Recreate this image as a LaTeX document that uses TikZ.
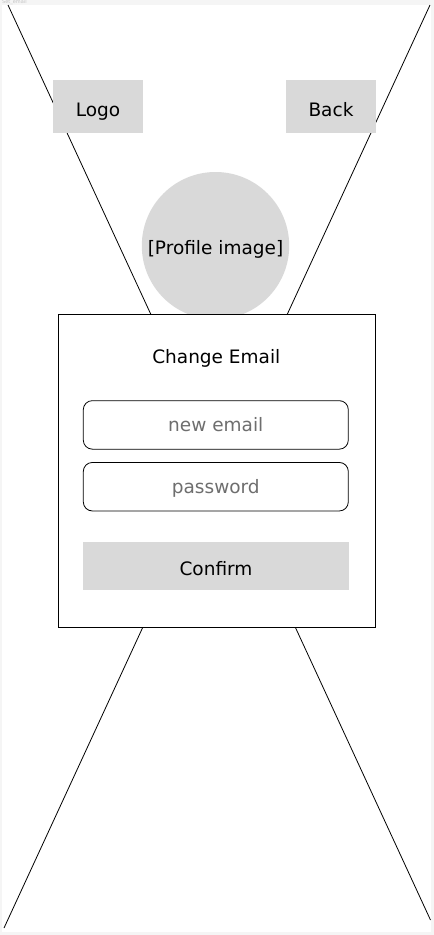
\documentclass[tikz,border=0pt]{standalone}
\usepackage{fontspec}
\setmainfont{DejaVu Sans}
\definecolor{pagebg}{HTML}{F5F5F5}
\definecolor{boxgray}{HTML}{D9D9D9}
\definecolor{hintgray}{HTML}{6E6E6E}
\definecolor{framelabel}{HTML}{C4C4C4}
\begin{document}
\begin{tikzpicture}[x=1pt,y=-1pt,
  uifont/.style={font=\fontsize{18.5}{21}\selectfont},
  xline/.style={line width=0.8pt,black},
  graybox/.style={uifont,fill=boxgray,inner sep=0pt,minimum width=90pt,minimum height=53pt,text height=19pt,text depth=0pt},
  field/.style={uifont,draw=black,line width=0.8pt,rounded corners=9pt,fill=white,inner sep=0pt,minimum width=265pt,minimum height=48.5pt,text=hintgray,text height=14pt,text depth=0pt},
  btn/.style={uifont,fill=boxgray,inner sep=0pt,minimum width=266pt,minimum height=48pt,text height=18pt,text depth=0pt},
  card/.style={draw=black,line width=0.8pt,fill=white,inner sep=0pt,minimum width=317pt,minimum height=313pt},
  avatar/.style={uifont,circle,fill=boxgray,inner sep=0pt,minimum size=147.4pt,text height=17pt,text depth=0pt},
  titletext/.style={uifont,inner sep=0pt}
]
\fill[pagebg] (0,0) rectangle (434,935);
\useasboundingbox (0,0) rectangle (434,935);
\fill[white] (2,5) rectangle (431,932);
\node[anchor=west,inner sep=0pt,text=framelabel,font=\fontsize{5}{6}\selectfont] (framename) at (2,2.2) {Set\_email};
\coordinate (tl) at (8,5);
\coordinate (br) at (430.5,920);
\coordinate (tr) at (430,5);
\coordinate (bl) at (4,928);
\draw[xline] (tl) -- (br);
\draw[xline] (tr) -- (bl);
\node[graybox] (logo) at (98,106.5) {Logo};
\node[graybox] (back) at (331,106.5) {Back};
\node[avatar] (profile) at (215.5,245.7) {[Profile image]};
\node[card] (panel) at (216.6,471.3) {};
\node[titletext,anchor=base] (title) at (216.3,363) {Change Email};
\node[field] (email) at (215.8,424.9) {new email};
\node[field] (pass) at (215.8,486.7) {password};
\node[btn] (confirm) at (216,566) {Confirm};
\end{tikzpicture}
\end{document}
